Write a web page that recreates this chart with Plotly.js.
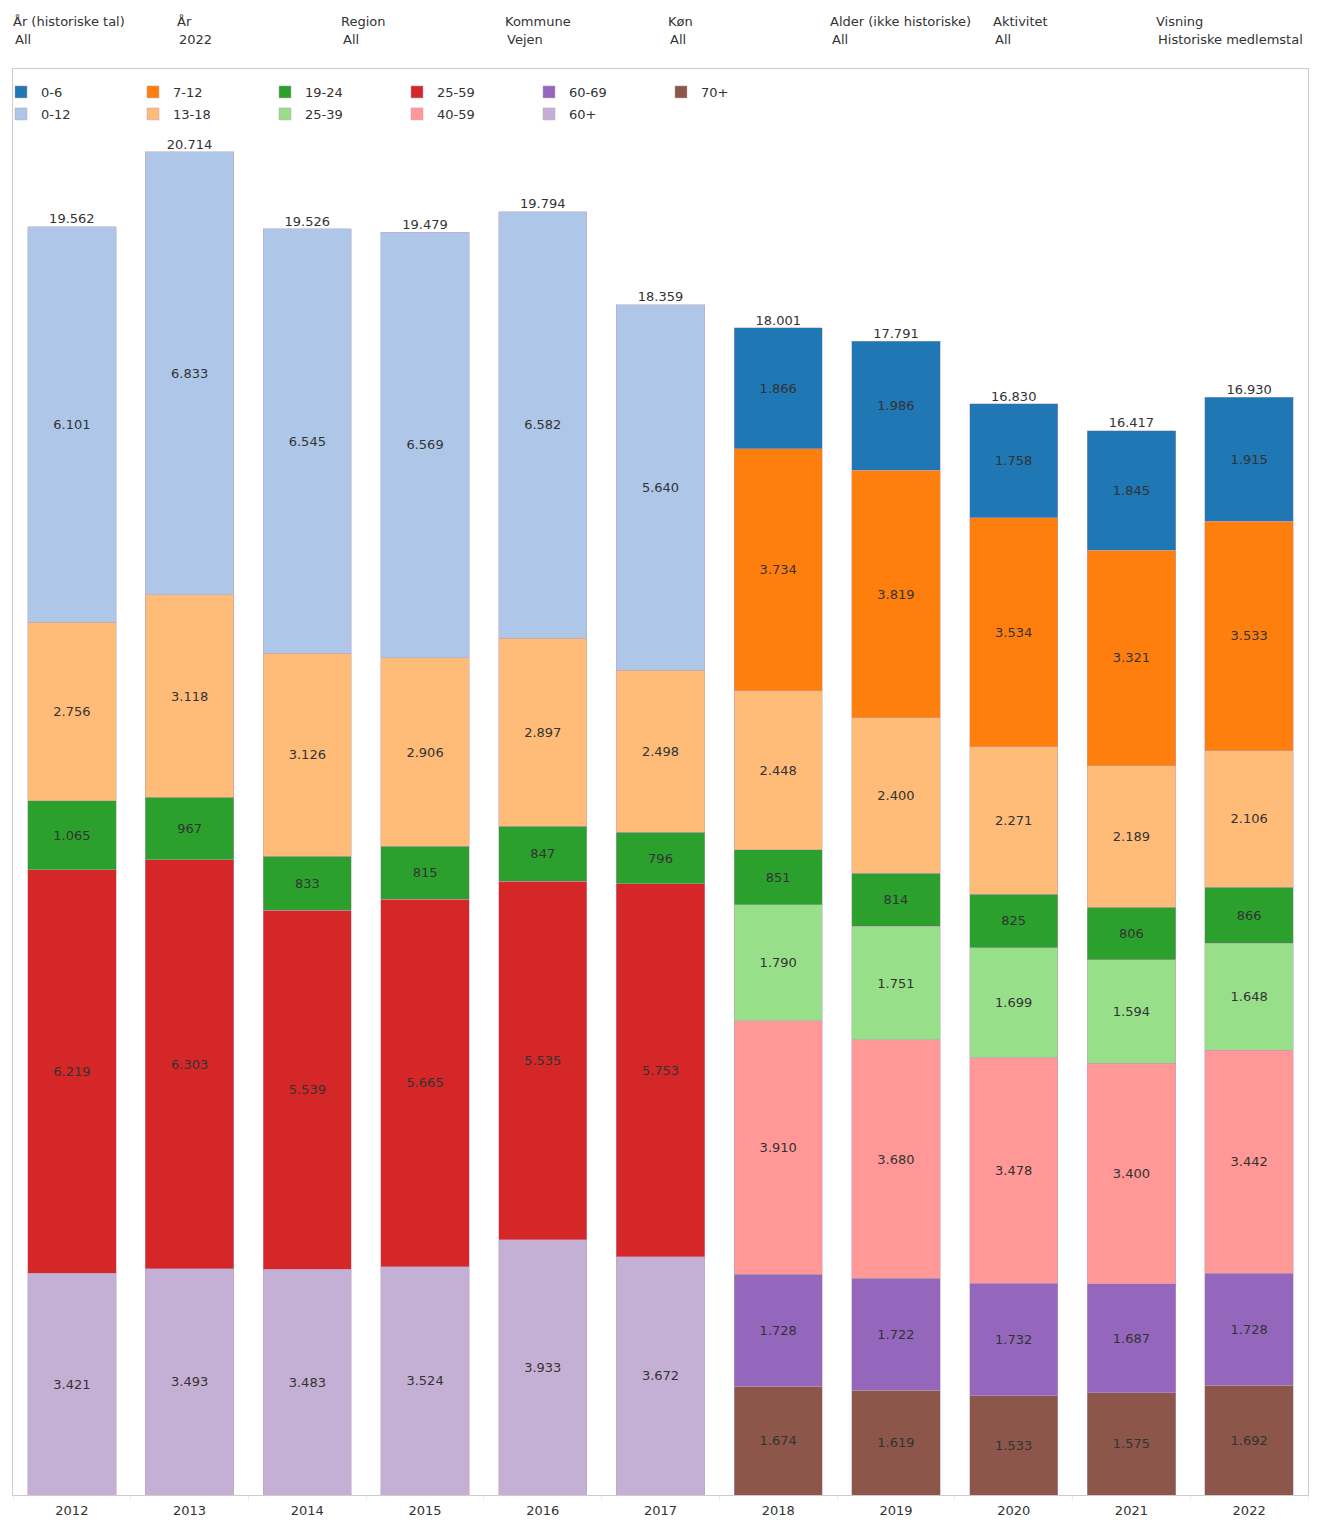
<!DOCTYPE html>
<html>
<head>
<meta charset="utf-8">
<script src="https://cdn.plot.ly/plotly-3.0.1.min.js"></script>
<style>
  html, body { margin: 0; padding: 0; background: #fff; }
  #chart { width: 1322px; height: 1539px; }
</style>
</head>
<body>
<div id="chart"></div>
<script>
// ---------- DATA ----------
const years = ["2012","2013","2014","2015","2016","2017","2018","2019","2020","2021","2022"];

const age0_6   = [null,null,null,null,null,null,1866,1986,1758,1845,1915];
const age0_12  = [6101,6833,6545,6569,6582,5640,null,null,null,null,null];
const age7_12  = [null,null,null,null,null,null,3734,3819,3534,3321,3533];
const age13_18 = [2756,3118,3126,2906,2897,2498,2448,2400,2271,2189,2106];
const age19_24 = [1065,967,833,815,847,796,851,814,825,806,866];
const age25_39 = [null,null,null,null,null,null,1790,1751,1699,1594,1648];
const age25_59 = [6219,6303,5539,5665,5535,5753,null,null,null,null,null];
const age40_59 = [null,null,null,null,null,null,3910,3680,3478,3400,3442];
const age60_69 = [null,null,null,null,null,null,1728,1722,1732,1687,1728];
const age60p   = [3421,3493,3483,3524,3933,3672,null,null,null,null,null];
const age70p   = [null,null,null,null,null,null,1674,1619,1533,1575,1692];

const totals   = [19562,20714,19526,19479,19794,18359,18001,17791,16830,16417,16930];

const filterTitles = ["År (historiske tal)","År","Region","Kommune","Køn","Alder (ikke historiske)","Aktivitet","Visning"];
const filterValues = ["All","2022","All","Vejen","All","All","All","Historiske medlemstal"];

// ---------- LAYOUT HELPERS ----------
const W = 1322, H = 1539;
const M = {l: 13, r: 14, t: 69, b: 44, autoexpand: false};
const PW = W - M.l - M.r, PH = H - M.t - M.b;
const px2x = px => (px - M.l) / PW;
const py2y = py => (H - M.b - py) / PH;

const FONT = "DejaVu Sans, sans-serif";
const TXT = "#333333";

// stacking order bottom -> top
const series = [
  {name: "70+",   y: age70p,   color: "#8c564b", legend: "legend2", rank: 3},
  {name: "60+",   y: age60p,   color: "#c5b0d5", legend: "legend4", rank: 2},
  {name: "60-69", y: age60_69, color: "#9467bd", legend: "legend2", rank: 2},
  {name: "25-59", y: age25_59, color: "#d62728", legend: "legend2", rank: 1},
  {name: "40-59", y: age40_59, color: "#ff9896", legend: "legend4", rank: 1},
  {name: "25-39", y: age25_39, color: "#98df8a", legend: "legend3", rank: 3},
  {name: "19-24", y: age19_24, color: "#2ca02c", legend: "legend",  rank: 3},
  {name: "13-18", y: age13_18, color: "#ffbb78", legend: "legend3", rank: 2},
  {name: "7-12",  y: age7_12,  color: "#ff7f0e", legend: "legend",  rank: 2},
  {name: "0-12",  y: age0_12,  color: "#aec7e8", legend: "legend3", rank: 1},
  {name: "0-6",   y: age0_6,   color: "#1f77b4", legend: "legend",  rank: 1}
];

const traces = series.map(s => ({
  type: "bar",
  name: s.name,
  x: years,
  y: s.y,
  legend: s.legend,
  legendrank: s.rank,
  marker: {color: s.color, line: {color: "rgba(190,160,190,0.7)", width: 0.7}},
  texttemplate: "%{y:,}",
  textposition: "inside",
  insidetextanchor: "middle",
  textangle: 0,
  textfont: {family: FONT, size: 13, color: TXT},
  hoverinfo: "x+y+name"
}));

traces.push({
  type: "scatter",
  mode: "text",
  x: years,
  y: totals,
  texttemplate: "%{y:,}",
  textposition: "top center",
  textfont: {family: FONT, size: 13, color: TXT},
  showlegend: false,
  hoverinfo: "skip",
  cliponaxis: false
});

const annotations = [];
const headerX = [13, 177, 341, 505, 668, 830, 993, 1156];
filterTitles.forEach((t, i) => {
  annotations.push({
    text: t, xref: "paper", yref: "paper",
    x: px2x(headerX[i] - 2), y: py2y(22), xanchor: "left", yanchor: "middle",
    showarrow: false, font: {family: FONT, size: 13, color: TXT}
  });
  annotations.push({
    text: filterValues[i], xref: "paper", yref: "paper",
    x: px2x(headerX[i]), y: py2y(39), xanchor: "left", yanchor: "middle",
    showarrow: false, font: {family: FONT, size: 13, color: TXT}
  });
});

const legendCommon = {
  orientation: "h",
  xref: "paper", yref: "paper",
  xanchor: "left", yanchor: "middle",
  traceorder: "normal",
  entrywidth: 87, entrywidthmode: "pixels",
  font: {family: FONT, size: 13, color: TXT},
  bgcolor: "rgba(0,0,0,0)",
  itemclick: false, itemdoubleclick: false,
  itemwidth: 30,
  tracegroupgap: 0
};

const layout = {
  width: W, height: H,
  margin: M,
  paper_bgcolor: "#fff",
  plot_bgcolor: "#fff",
  barmode: "stack",
  bargap: 0.25,
  separators: ",.",
  font: {family: FONT, size: 13, color: TXT},
  xaxis: {
    type: "category",
    range: [-0.5, years.length - 0.5],
    showline: true, mirror: true, linecolor: "#cccccc", linewidth: 1,
    ticks: "outside", tickson: "boundaries", ticklen: 5, tickcolor: "#eeeeee",
    ticklabelstandoff: 3,
    tickfont: {family: FONT, size: 13, color: TXT},
    showgrid: false, zeroline: false, fixedrange: true
  },
  yaxis: {
    range: [0, 21993],
    showline: true, mirror: true, linecolor: "#cccccc", linewidth: 1,
    showticklabels: false, ticks: "", showgrid: false, zeroline: false, fixedrange: true
  },
  legend:  Object.assign({}, legendCommon, {x: px2x(1),   y: py2y(92)}),
  legend2: Object.assign({}, legendCommon, {x: px2x(397), y: py2y(92)}),
  legend3: Object.assign({}, legendCommon, {x: px2x(1),   y: py2y(114)}),
  legend4: Object.assign({}, legendCommon, {x: px2x(397), y: py2y(114)}),
  annotations: annotations,
  showlegend: true
};

Plotly.newPlot("chart", traces, layout, {displayModeBar: false});
</script>
</body>
</html>
